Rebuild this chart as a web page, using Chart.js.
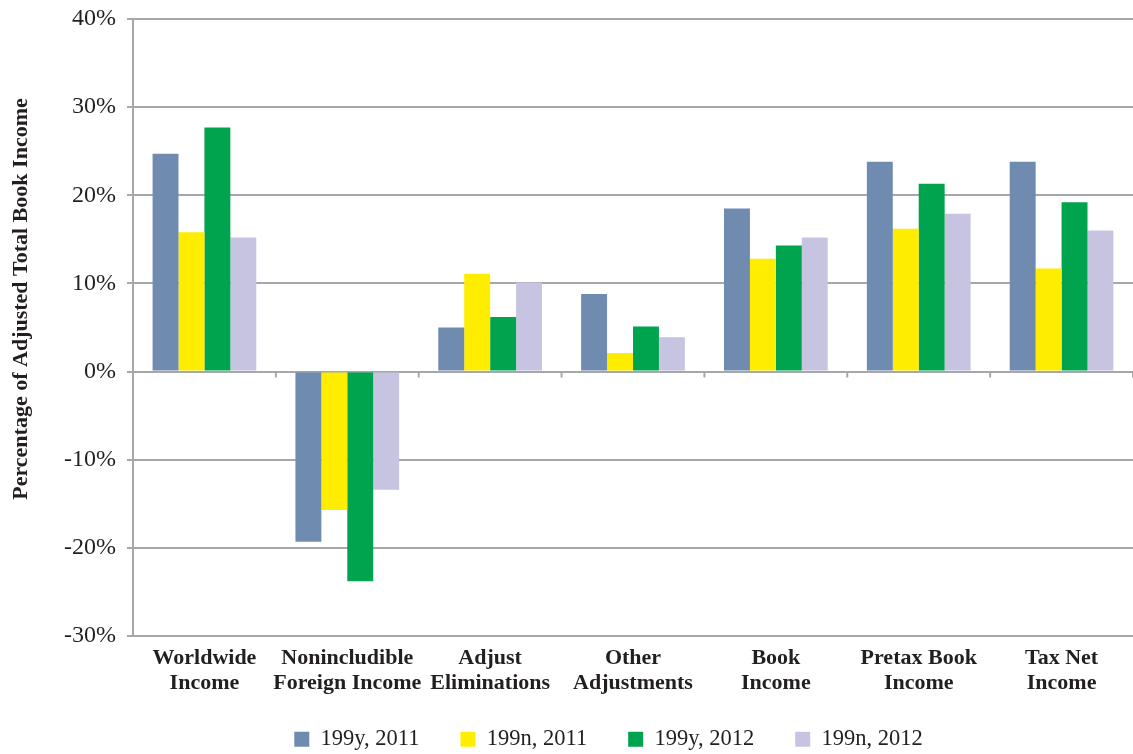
<!DOCTYPE html>
<html>
<head>
<meta charset="utf-8">
<title>Book income components</title>
<script src="https://cdn.jsdelivr.net/npm/chart.js@4.4.0/dist/chart.umd.min.js"></script>
<style>
  html, body { margin: 0; padding: 0; background: #fff; }
  #wrap { width: 1133px; height: 754px; }
</style>
</head>
<body>
<div id="wrap"><canvas id="incomeChart"></canvas></div>
<script>
// categories on the x axis (two-line labels)
const categories = [
  ['Worldwide', 'Income'],
  ['Nonincludible', 'Foreign Income'],
  ['Adjust', 'Eliminations'],
  ['Other', 'Adjustments'],
  ['Book', 'Income'],
  ['Pretax Book', 'Income'],
  ['Tax Net', 'Income']
];

const seriesNames = ['199y, 2011', '199n, 2011', '199y, 2012', '199n, 2012'];

// percentage of adjusted total book income
const y2011 = [24.7, -19.3, 5.0, 8.8, 18.5, 23.8, 23.8];
const n2011 = [15.8, -15.7, 11.1, 2.1, 12.8, 16.2, 11.7];
const y2012 = [27.7, -23.8, 6.2, 5.1, 14.3, 21.3, 19.2];
const n2012 = [15.2, -13.4, 10.1, 3.9, 15.2, 17.9, 16.0];

const yMin = -30;
const yMax = 40;
const yStep = 10;

const seriesColors = ['#6f8bb0', '#ffed00', '#00a34e', '#c6c4e1'];
const gridColor = '#a5a7aa';
const textColor = '#231f20';
const serif = "'Liberation Serif', 'Times New Roman', serif";

// short tick marks on the zero line between categories
const zeroTicks = {
  id: 'zeroTicks',
  beforeDatasetsDraw(chart) {
    const x = chart.scales.x;
    const y0 = chart.scales.y.getPixelForValue(0);
    const ctx = chart.ctx;
    ctx.save();
    ctx.strokeStyle = gridColor;
    ctx.lineWidth = 2;
    ctx.beginPath();
    for (let i = 1; i <= categories.length; i++) {
      const px = x.getPixelForValue(i - 0.5);
      ctx.moveTo(px, y0);
      ctx.lineTo(px, y0 + 6);
    }
    ctx.stroke();
    ctx.restore();
  }
};

// vertical axis title, drawn a bit above the plot centre
const yTitle = {
  id: 'yTitle',
  afterDraw(chart) {
    const ctx = chart.ctx;
    ctx.save();
    ctx.translate(21, 299);
    ctx.rotate(-Math.PI / 2);
    ctx.fillStyle = textColor;
    ctx.font = 'bold 22px ' + serif;
    ctx.textAlign = 'center';
    ctx.textBaseline = 'middle';
    ctx.fillText('Percentage of Adjusted Total Book Income', 0, 0);
    ctx.restore();
  }
};

// nudge the legend row right and up a little
const legendShift = {
  id: 'legendShift',
  afterLayout(chart) {
    chart.legend.left += 42;
    chart.legend.right += 42;
    chart.legend.top -= 9;
  }
};

const seriesData = [y2011, n2011, y2012, n2012];

const loadChart = () => {
  const ctx = document.getElementById('incomeChart').getContext('2d');

  new Chart(ctx, {
    type: 'bar',
    data: {
      labels: categories,
      datasets: seriesNames.map((name, i) => ({
        label: name,
        data: seriesData[i],
        backgroundColor: seriesColors[i],
        categoryPercentage: 0.726,
        barPercentage: 1.0
      }))
    },
    options: {
      responsive: true,
      maintainAspectRatio: false,
      animation: false,
      layout: {
        padding: { top: 19, right: 0, bottom: 0, left: 0 }
      },
      scales: {
        x: {
          grid: { display: false, drawTicks: false },
          border: { display: false },
          ticks: {
            color: textColor,
            padding: 10,
            maxRotation: 0,
            autoSkip: false,
            font: { family: serif, size: 22, weight: 'bold', lineHeight: 1.14 }
          },
          afterFit: (scale) => { scale.height = 60; }
        },
        y: {
          min: yMin,
          max: yMax,
          grid: {
            color: gridColor,
            lineWidth: 2,
            tickLength: 6
          },
          border: { display: true, color: gridColor, width: 2 },
          ticks: {
            stepSize: yStep,
            color: textColor,
            padding: 11,
            font: { family: serif, size: 24 },
            callback: (v) => v + '%'
          },
          afterFit: (scale) => {
            scale.width = 133;
            scale.paddingTop = 0;
            scale.paddingBottom = 0;
          }
        }
      },
      plugins: {
        legend: {
          position: 'bottom',
          maxHeight: 58,
          labels: {
            boxWidth: 15,
            boxHeight: 15,
            padding: 41,
            color: textColor,
            font: { family: serif, size: 22.5 }
          }
        },
        title: { display: false },
        tooltip: { enabled: false }
      }
    },
    plugins: [zeroTicks, yTitle, legendShift]
  });
};

document.addEventListener('DOMContentLoaded', loadChart);
</script>
</body>
</html>
